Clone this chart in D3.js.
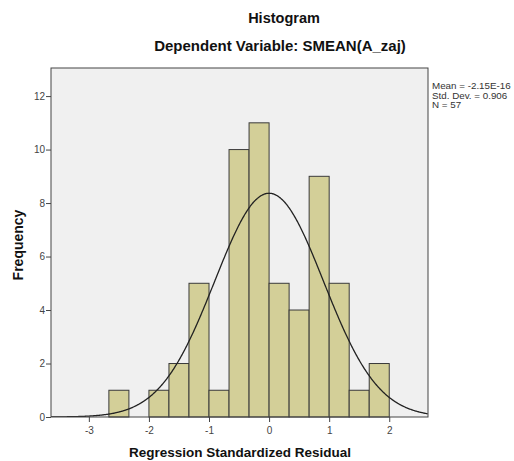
<!DOCTYPE html>
<html><head><meta charset="utf-8">
<script src="https://cdn.jsdelivr.net/npm/d3@7"></script>
<style>body{margin:0;background:#fff}</style>
</head><body>
<svg id="c" width="514" height="461"></svg>
<script>
// Data
const binEdgesStart = [-8/3,-7/3,-2,-5/3,-4/3,-1,-2/3,-1/3,0,1/3,2/3,1,4/3,5/3];
const binWidth = 1/3;
const counts = [1,0,1,2,5,1,10,11,5,4,9,5,1,2];
const xTicks = [-3,-2,-1,0,1,2];
const yTicks = [0,2,4,6,8,10,12];
const statLines = ["Mean = -2.15E-16","Std. Dev. = 0.906","N = 57"];
const mean = -2.15e-16, sd = 0.906, n = 57;

const svg = d3.select("#c");
const L=51, R=428, T=68, B=417;
const x = d3.scaleLinear().domain([-3.63,2.645]).range([L,R]);
const y = d3.scaleLinear().domain([0,13.05]).range([B,T]);

svg.append("rect").attr("x",L).attr("y",T).attr("width",R-L).attr("height",B-T).attr("fill","#f0f0f0");

const bins = binEdgesStart.map((s,i)=>({x0:s,x1:s+binWidth,c:counts[i]})).filter(d=>d.c>0);
svg.append("g").selectAll("rect").data(bins).join("rect")
  .attr("x",d=>x(d.x0)).attr("width",d=>x(d.x1)-x(d.x0))
  .attr("y",d=>y(d.c)).attr("height",d=>y(0)-y(d.c))
  .attr("fill","#d3cf98").attr("stroke","#3a3a3a").attr("stroke-width",1);

// fitted normal curve from stated parameters
const pts = d3.range(-3.63,2.646,0.01).map(v=>[v, n*binWidth/(sd*Math.sqrt(2*Math.PI))*Math.exp(-0.5*((v-mean)/sd)**2)]);
svg.append("clipPath").attr("id","clip").append("rect").attr("x",L).attr("y",T).attr("width",R-L).attr("height",B-T);
svg.append("path").datum(pts).attr("clip-path","url(#clip)")
  .attr("d",d3.line().x(d=>x(d[0])).y(d=>y(d[1])).curve(d3.curveBasis))
  .attr("fill","none").attr("stroke","#222").attr("stroke-width",1.3);

svg.append("rect").attr("x",L).attr("y",T).attr("width",R-L).attr("height",B-T).attr("fill","none").attr("stroke","#444").attr("stroke-width",1);

const font = "Arial, 'Liberation Sans', sans-serif";
const fmt = d => String(d);
const xa = svg.append("g").attr("transform",`translate(0,${B})`).call(d3.axisBottom(x).tickValues(xTicks).tickSize(5).tickSizeOuter(0).tickFormat(fmt));
const ya = svg.append("g").attr("transform",`translate(${L},0)`).call(d3.axisLeft(y).tickValues(yTicks).tickSize(5).tickSizeOuter(0).tickFormat(fmt));
[xa,ya].forEach(a=>{
  a.select(".domain").remove();
  a.selectAll("line").attr("stroke","#444");
  a.selectAll("text").attr("font-family",font).attr("font-size",10).attr("fill","#444");
});
xa.selectAll("text").attr("dy","0.9em");
ya.selectAll("text").attr("x",-6);

svg.append("text").attr("x",284).attr("y",23).attr("text-anchor","middle").attr("font-family",font).attr("font-weight","bold").attr("font-size",14.5).attr("fill","#111").text("Histogram");
svg.append("text").attr("x",280).attr("y",51).attr("text-anchor","middle").attr("font-family",font).attr("font-weight","bold").attr("font-size",15).attr("fill","#111").text("Dependent Variable: SMEAN(A_zaj)");
svg.append("text").attr("x",240).attr("y",457).attr("text-anchor","middle").attr("font-family",font).attr("font-weight","bold").attr("font-size",13.5).attr("fill","#111").text("Regression Standardized Residual");
svg.append("text").attr("transform","translate(23,245) rotate(-90)").attr("text-anchor","middle").attr("font-family",font).attr("font-weight","bold").attr("font-size",14).attr("fill","#111").text("Frequency");

svg.append("g").selectAll("text").data(statLines).join("text")
  .attr("x",432).attr("y",(d,i)=>89+i*9.5).attr("font-family",font).attr("font-size",9.8).attr("fill","#333").text(d=>d);
</script>
</body></html>
